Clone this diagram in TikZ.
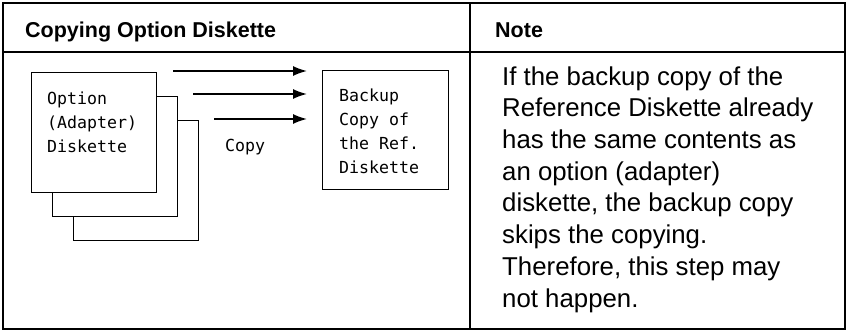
\documentclass[tikz,border=0pt]{standalone}
\usepackage{fontspec}
\setmainfont{Liberation Sans}
\newfontfamily\diskmono{DejaVu Sans Mono}
\usetikzlibrary{arrows.meta,calc}
\tikzset{
  frame/.style={line width=1.8pt},
  disk/.style={draw, line width=1.3pt, fill=white, minimum width=125pt, minimum height=120pt, inner sep=0pt, anchor=north west},
  monotext/.style={font=\diskmono\fontsize{16.6}{23.8}\selectfont, align=left, inner sep=0pt, anchor=base west},
  headtext/.style={font=\fontsize{21.5}{26}\selectfont\bfseries, inner sep=0pt, anchor=base west},
  notetext/.style={font=\fontsize{25.8}{31.7}\selectfont, align=left, inner sep=0pt, anchor=base west},
  copyarrow/.style={line width=1.6pt, -{Latex[length=14pt,width=10pt]}}
}
\begin{document}
\begin{tikzpicture}[x=1pt,y=-1pt]
\useasboundingbox (0,0) rectangle (848,333);
% table frame
\draw[frame] (3,3) rectangle (845,329);
\draw[frame] (3,52) -- (845,52);
\draw[frame] (470,3) -- (470,329);
\node[headtext] (h1) at (25,37) {Copying Option Diskette};
\node[headtext] (h2) at (495,37) {Note};
% diskettes
\node[disk] (d3) at (73,120) {};
\node[disk] (d2) at (52,96) {};
\node[disk] (d1) at (31,72) {};
\node[monotext] (t1) at (47,152) {Option\\(Adapter)\\Diskette};
\node[disk, minimum width=126pt, minimum height=119pt] (bk) at (322,70) {};
\node[monotext] (t2) at (339,173) {Backup\\Copy of\\the Ref.\\Diskette};
\node[monotext] (cp) at (225,151) {Copy};
% arrows
\coordinate (s1) at ($(d1.north east)+(16,-1)$);
\coordinate (s2) at ($(d2.north east)+(15,-2)$);
\coordinate (s3) at ($(d3.north east)+(15,-1)$);
\coordinate (e1) at ($(bk.west |- s1)+(-15,0)$);
\coordinate (e2) at ($(bk.west |- s2)+(-15,0)$);
\coordinate (e3) at ($(bk.west |- s3)+(-15,0)$);
\draw[copyarrow] (s1) -- (e1);
\draw[copyarrow] (s2) -- (e2);
\draw[copyarrow] (s3) -- (e3);
% note
\node[notetext] (nt) at (502,307) {If the backup copy of the\\Reference Diskette already\\has the same contents as\\an option (adapter)\\diskette, the backup copy\\skips the copying.\\Therefore, this step may\\not happen.};
\end{tikzpicture}
\end{document}
